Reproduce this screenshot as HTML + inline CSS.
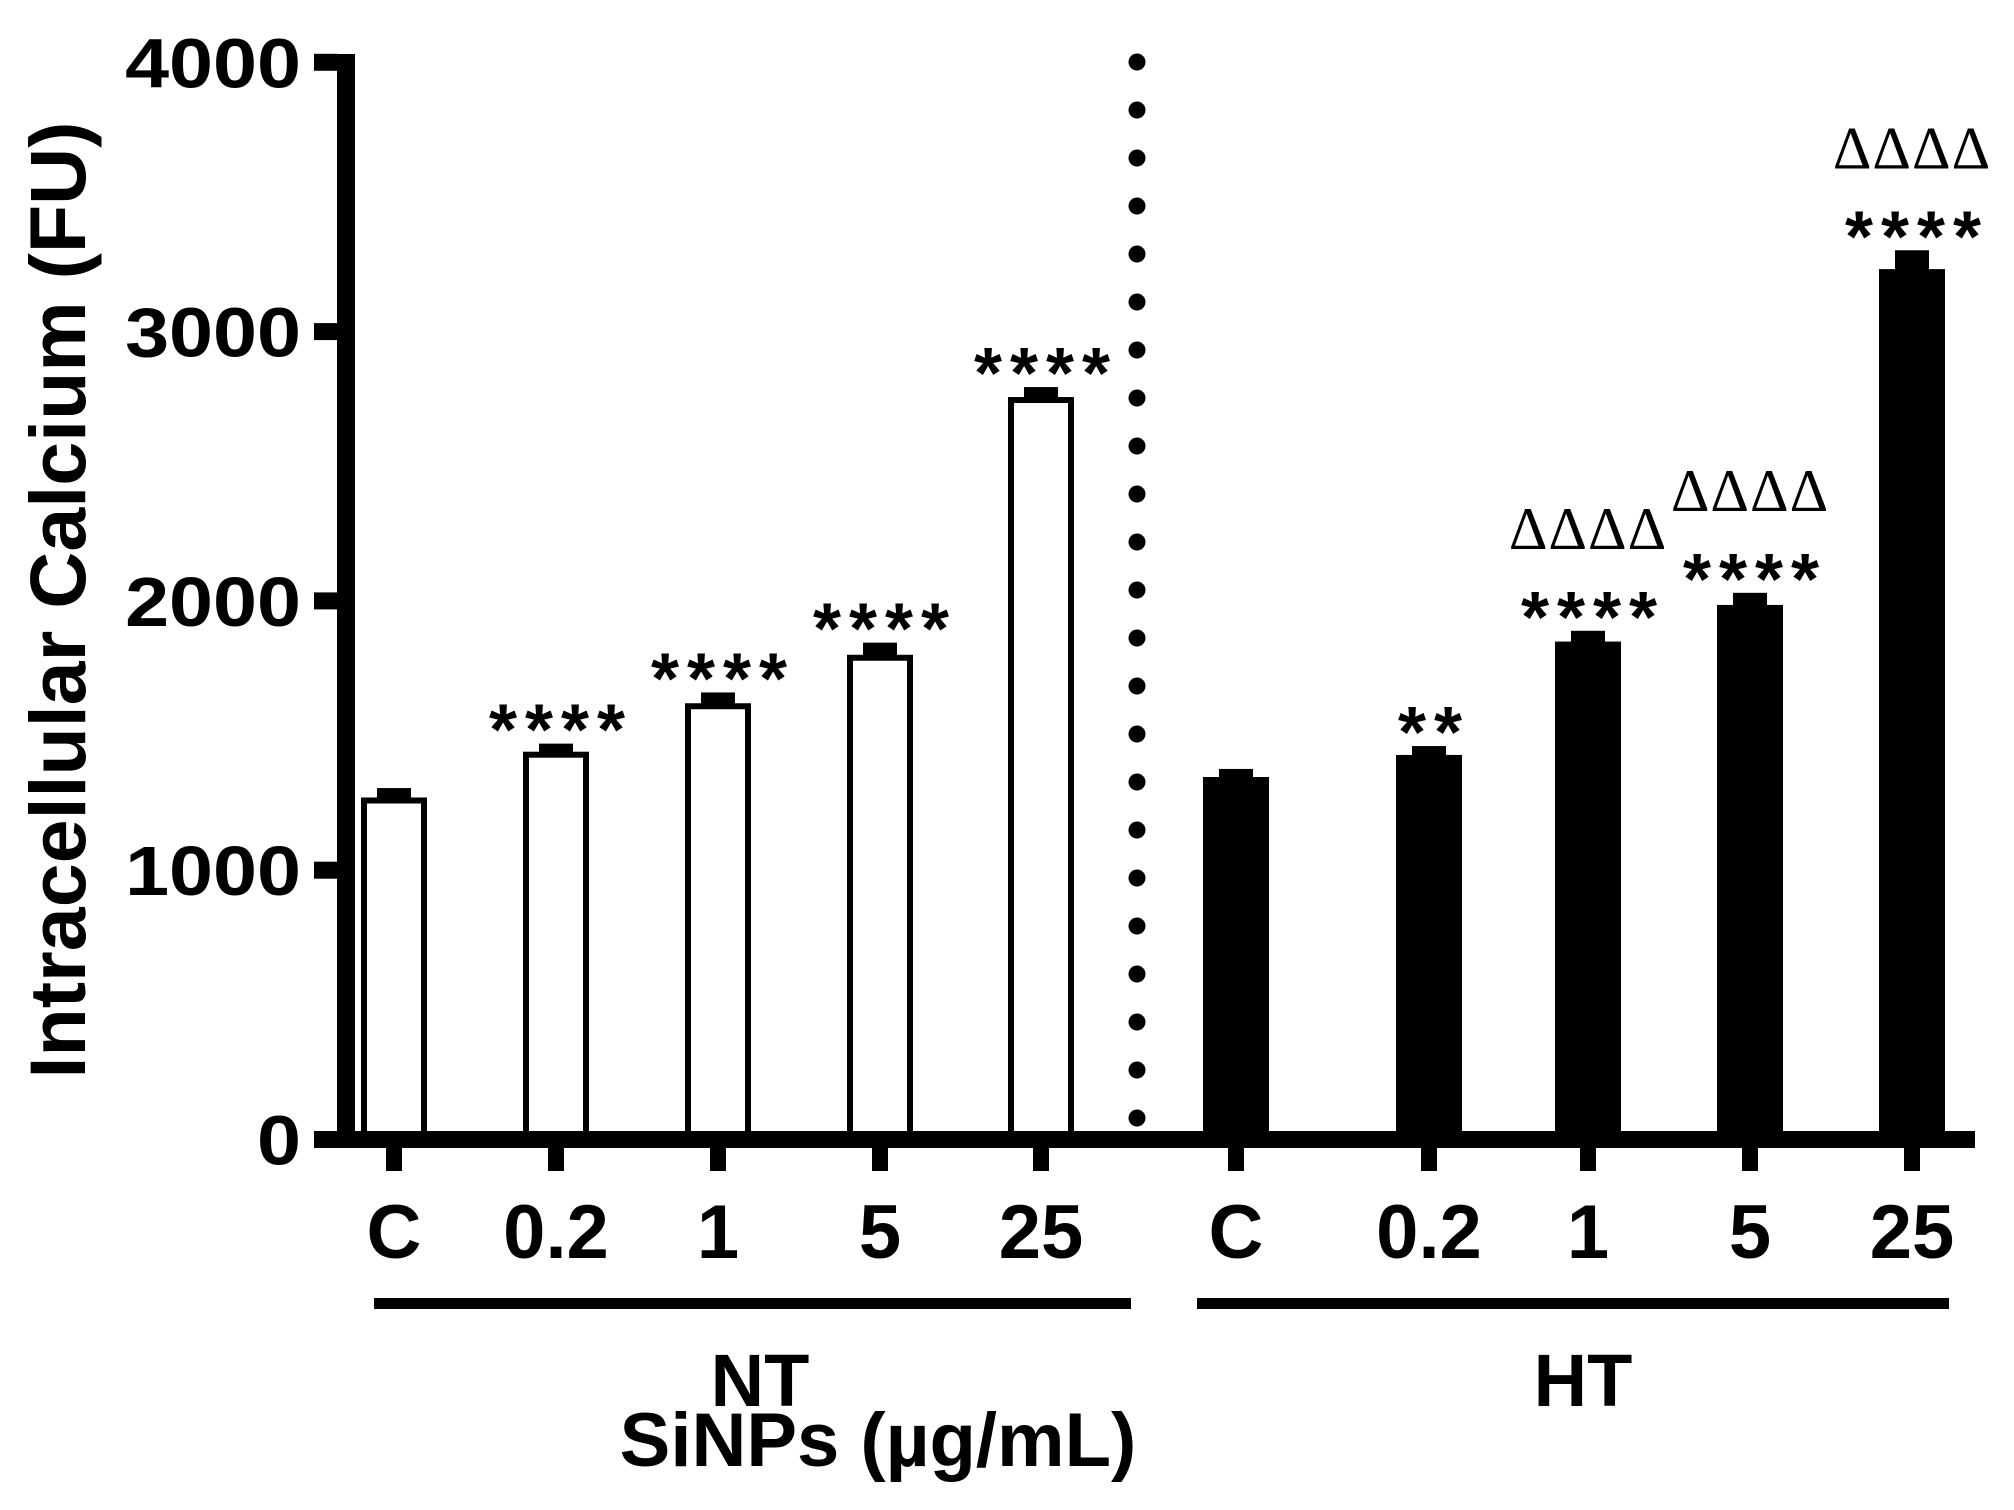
<!DOCTYPE html>
<html><head><meta charset="utf-8"><style>
html,body{margin:0;padding:0;background:#fff;}
svg{display:block;font-family:"Liberation Sans",Arial,sans-serif;}
</style></head><body>
<svg id="chart" width="2014" height="1510" viewBox="0 0 2014 1510" xmlns="http://www.w3.org/2000/svg"></svg>
<script>
const categories = ["C","0.2","1","5","25"];
const ntValues = [1270, 1440, 1620, 1800, 2757];
const ntErrors = [35, 30, 40, 45, 37];
const htValues = [1346, 1428, 1849, 1985, 3232];
const htErrors = [30, 33, 40, 45, 70];
const ntStars = ["", "****", "****", "****", "****"];
const htStars = ["", "**", "****", "****", "****"];
const htDeltas = ["", "", "ΔΔΔΔ", "ΔΔΔΔ", "ΔΔΔΔ"];
const yTicks = [0, 1000, 2000, 3000, 4000];
const ntCenters = [394, 556, 718, 880, 1041];
const htCenters = [1236, 1429, 1588, 1750, 1912];

const NS = "http://www.w3.org/2000/svg";
const svg = document.getElementById("chart");
const y0 = 1139.5, pxPer = 0.2693;
function yScale(v){ return y0 - v * pxPer; }
function mk(tag, attrs, parent){
  const e = document.createElementNS(NS, tag);
  for (const k in attrs) e.setAttribute(k, attrs[k]);
  (parent || svg).appendChild(e);
  return e;
}

// y axis
let e = mk("rect", {x:337, y:54, width:18, height:1094, fill:"#000"});


yTicks.forEach(t => {
  const yy = yScale(t);
  let tk = mk("rect", {x:314, y:yy-8.5, width:24, height:17, fill:"#000"});
  
  
  let lb = mk("text", {x:0, y:0, "font-size":70, "font-weight":"bold", "text-anchor":"end",
    transform:`translate(301,${yy+25}) scale(1.13,1)`});
  lb.textContent = t;
  
  
});
// baseline
e = mk("rect", {x:314, y:1131, width:1661, height:17, fill:"#000"});



// dotted separator
e = mk("line", {x1:1137, y1:62, x2:1137, y2:1139, stroke:"#000", "stroke-width":17, "stroke-linecap":"round", "stroke-dasharray":"0 48"});



function drawGroup(values, errors, centers, filled, stars, deltas, prefix){
  values.forEach((v, i) => {
    const cx = centers[i], top = yScale(v), et = yScale(v + errors[i]);
    const cap = mk("rect", {x:cx-17, y:et, width:34, height:top-et+3, fill:"#000"});
    
    
    let bar;
    if (filled) {
      bar = mk("rect", {x:cx-33, y:top, width:66, height:1131-top, fill:"#000"});
    } else {
      bar = mk("rect", {x:cx-30, y:top+3, width:60, height:1131-top, fill:"#fff", stroke:"#000", "stroke-width":6});
    }
    
    
    const tk = mk("rect", {x:cx-8, y:1148, width:16, height:23, fill:"#000"});
    
    
    const lb = mk("text", {x:cx, y:1258, "font-size":76, "font-weight":"bold", "text-anchor":"middle"});
    lb.textContent = categories[i];
    
    
    if (stars[i]) {
      const sc = et - 30;
      const st = mk("text", {x:cx+5, y:sc+41, "font-size":72, "font-weight":"bold", "text-anchor":"middle", "letter-spacing":8});
      st.textContent = stars[i];
      
      
      if (deltas[i]) {
        const dt = mk("text", {x:cx, y:sc-70+18, "font-size":60, "text-anchor":"middle", "letter-spacing":1, "font-family":"Liberation Serif, serif"});
        dt.textContent = deltas[i];
        
        
      }
    }
  });
}
drawGroup(ntValues, ntErrors, ntCenters, false, ntStars, ["","","","",""], "nt");
drawGroup(htValues, htErrors, htCenters, true, htStars, htDeltas, "ht");

// group lines and labels
e = mk("rect", {x:374, y:1298, width:757, height:11, fill:"#000"});


e = mk("rect", {x:1197, y:1298, width:752, height:11, fill:"#000"});


e = mk("text", {x:760, y:1406, "font-size":74, "font-weight":"bold", "text-anchor":"middle"});
e.textContent = "NT";


e = mk("text", {x:1583, y:1406, "font-size":74, "font-weight":"bold", "text-anchor":"middle"});
e.textContent = "HT";


e = mk("text", {x:878, y:1466, "font-size":76, "font-weight":"bold", "text-anchor":"middle"});
e.textContent = "SiNPs (µg/mL)";


e = mk("text", {x:0, y:0, "font-size":79, "font-weight":"bold", "text-anchor":"middle", transform:"translate(85,600) rotate(-90)"});
e.textContent = "Intracellular Calcium (FU)";


</script>
</body></html>
